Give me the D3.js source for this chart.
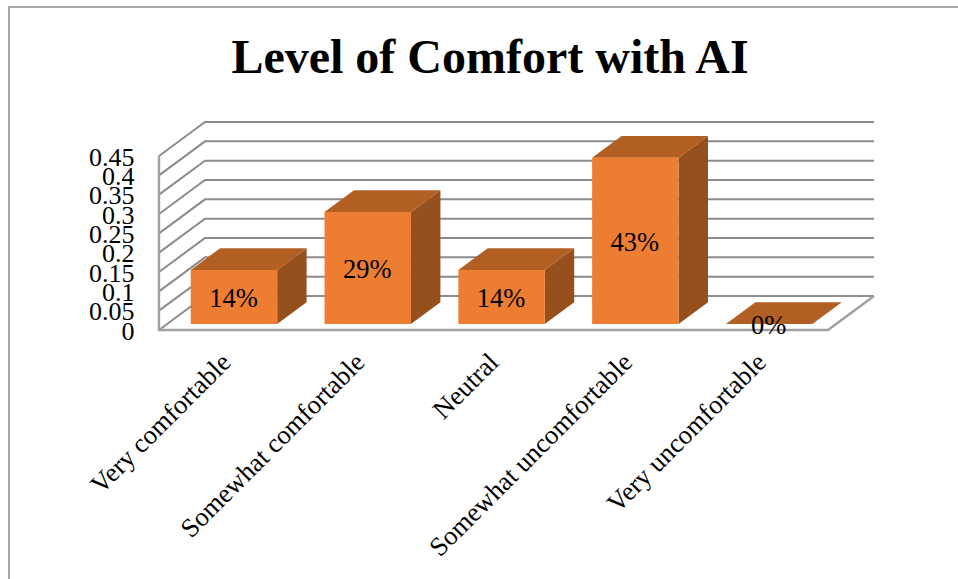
<!DOCTYPE html>
<html><head><meta charset="utf-8">
<script src="https://cdn.jsdelivr.net/npm/d3@7"></script>
<style>html,body{margin:0;padding:0;background:#fff;overflow:hidden}svg{display:block}text{font-family:"Liberation Serif","Times New Roman",serif;fill:#000}</style>
</head><body><script>
const titleText = "Level of Comfort with AI";
const categories = ["Very comfortable","Somewhat comfortable","Neutral","Somewhat uncomfortable","Very uncomfortable"];
const values = [0.14,0.29,0.14,0.43,0];
const valueLabels = ["14%","29%","14%","43%","0%"];
const yTicks = [0,0.05,0.1,0.15,0.2,0.25,0.3,0.35,0.4,0.45];
const yTickLabels = ["0","0.05","0.1","0.15","0.2","0.25","0.3","0.35","0.4","0.45"];

const W=958,H=579;
const svg=d3.select("body").append("svg").attr("width",W).attr("height",H);
const x=d3.scaleBand().domain(categories).range([159,828]).paddingInner(0.354).paddingOuter(0.177);
const y=d3.scaleLinear().domain([0,0.45]).range([330,156]);
const depth=d3.scaleLinear().domain([0,1]).range([0,46]);
const rise=d3.scaleLinear().domain([0,1]).range([0,-34]);
const P=(px,py,z)=>[px+depth(z),py+rise(z)];
const path=pts=>"M"+pts.map(p=>p.join(",")).join("L")+"Z";
const line=d3.line();
const gridC="#8c8c8c";

// chart frame
svg.append("path").attr("d",`M9,${H}V7H${W}`).attr("fill","none").attr("stroke","#a8a8a8").attr("stroke-width",2);

svg.append("text").text(titleText).attr("x",490).attr("y",73).attr("text-anchor","middle")
  .attr("font-size",48).attr("font-weight","bold");

// walls
const [x0,x1]=x.range();
const wall=svg.append("g").attr("fill","none").attr("stroke",gridC).attr("stroke-width",2);
yTicks.forEach(t=>{
  wall.append("path").attr("d",line([P(x0,y(t),0),P(x0,y(t),1),P(x1,y(t),1)]));
});
wall.append("path").attr("d",line([[x0,y(0.45)],[x0,y(0)],[x1,y(0)],P(x1,y(0),1)])).attr("stroke-width",2.4).attr("stroke","#a0a0a0");

// bars
const zFront=0.175,zBack=0.815;
const bars=svg.append("g").selectAll("g").data(categories).join("g");
bars.each(function(c,i){
  const g=d3.select(this),l=x(c),r=l+x.bandwidth(),t=y(values[i]),b=y(0);
  g.append("path").attr("d",path([P(r,t,zFront),P(r,t,zBack),P(r,b,zBack),P(r,b,zFront)])).attr("fill","#96501d");
  g.append("path").attr("d",path([P(l,t,zFront),P(l,t,zBack),P(r,t,zBack),P(r,t,zFront)])).attr("fill","#b25f24");
  g.append("path").attr("d",path([P(l,t,zFront),P(r,t,zFront),P(r,b,zFront),P(l,b,zFront)])).attr("fill","#ed7d31");
});

// data labels
svg.append("g").selectAll("text").data(categories).join("text")
  .text((c,i)=>valueLabels[i]).attr("text-anchor","middle").attr("font-size",26.5)
  .attr("x",c=>P(x(c)+x.bandwidth()/2,0,zFront)[0]-0.5)
  .attr("y",(c,i)=>(P(0,y(values[i]),zFront)[1]+P(0,y(0),zFront)[1])/2+10);

// y axis
const yAxis=d3.axisLeft(y).tickValues(yTicks).tickSize(0).tickPadding(0)
  .tickFormat((d,i)=>yTickLabels[i]);
const ya=svg.append("g").attr("transform","translate(134.5,0.8)").call(yAxis);
ya.select(".domain").remove();
ya.selectAll("text").attr("font-size",26).attr("font-family",null).attr("dy","0.32em");

// category labels
svg.append("g").selectAll("text").data(categories).join("text").text(c=>c)
  .attr("text-anchor","end").attr("font-size",26.6)
  .attr("transform",c=>`translate(${x(c)+x.bandwidth()/2+6.5},364) rotate(-45)`);
</script></body></html>
